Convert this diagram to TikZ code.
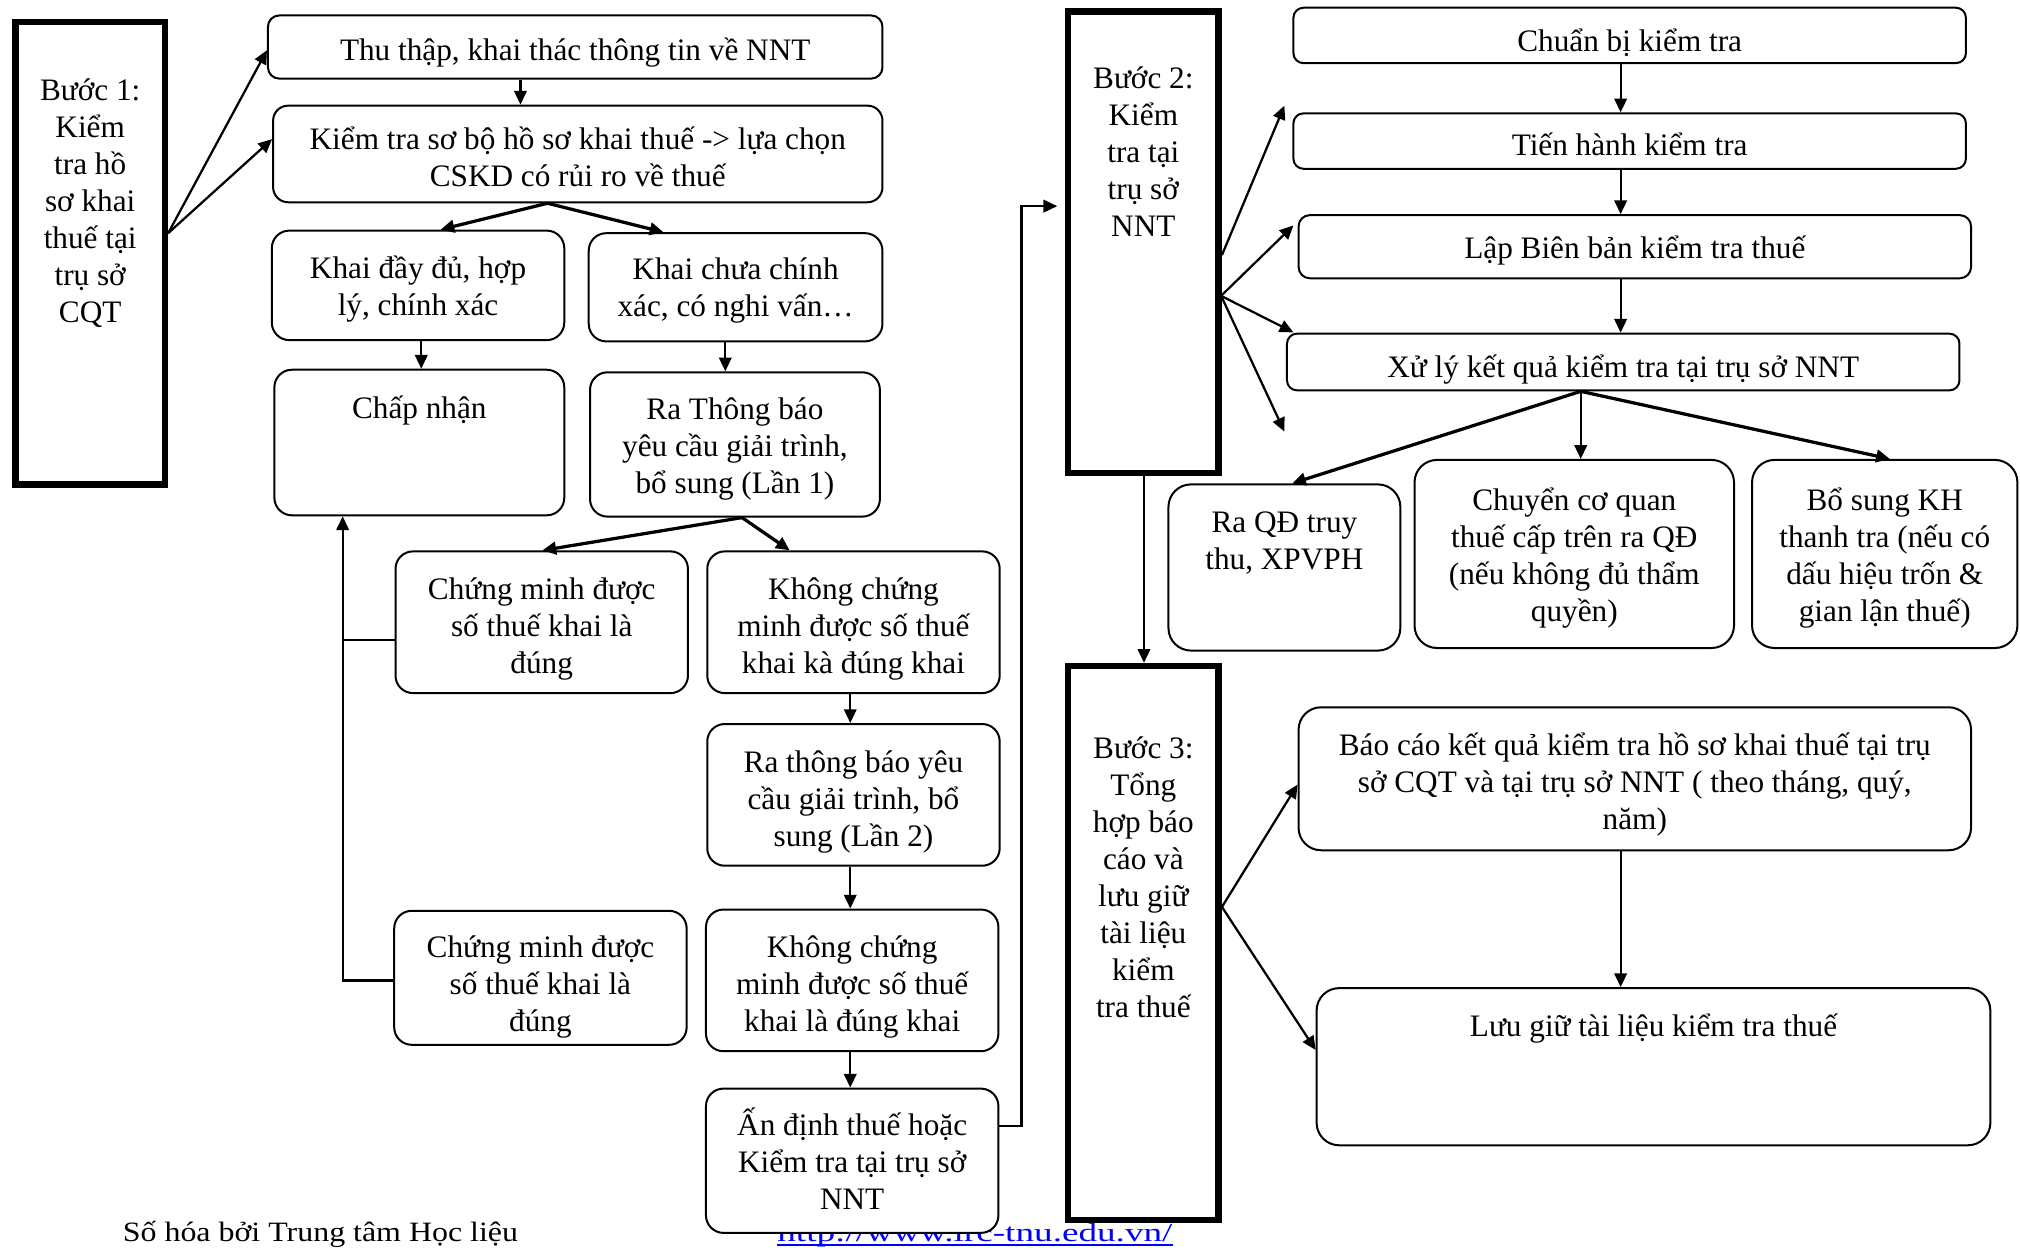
\documentclass[tikz,border=0pt]{standalone}
\usepackage{fontspec}
\setmainfont{Liberation Serif}
\usepackage{graphicx}
\usetikzlibrary{arrows.meta,fit}

\tikzset{
  hop/.style={draw, fill=white, rounded corners=#1, line width=0.8pt, inner sep=0pt},
  hop/.default=7pt,
  buoc/.style={draw, fill=white, line width=2.6pt, inner sep=0pt},
  chu/.style={anchor=base, align=center, inner sep=0pt},
  mui/.style={-{Triangle[length=5.5pt,width=5pt]}, line width=0.9pt},
  muidam/.style={mui, line width=1.3pt},
}

\begin{document}
\begin{tikzpicture}[x=0.5153pt, y=-0.5153pt, font=\fontsize{12.5pt}{14.8pt}\selectfont]
  \path[use as bounding box, fill=white] (0,0) rectangle (1568,970);

  % chan trang
  \node[chu, anchor=base west] (sohoa) at (95,964)
    {\fontsize{11.2pt}{13pt}\selectfont\scalebox{1.14}[1]{Số hóa bởi Trung tâm Học liệu}};
  \node[chu, anchor=base west, text=blue] (diachi) at (603,964)
    {\fontsize{10.4pt}{12pt}\selectfont\scalebox{1.43}[1]{http://www.lrc-tnu.edu.vn/}};
  \draw[blue, line width=0.7pt] ([yshift=-1.3pt]diachi.base west) -- ([yshift=-1.3pt]diachi.base east);

  % Buoc 1: kiem tra tai tru so CQT
  \node[buoc, fit={(12,17) (128,376)},
    label={[chu, yshift=-121.5pt]north:Bước 1:\\Kiểm\\tra hồ\\sơ khai\\thuế tại\\trụ sở\\CQT}] (buoc1) {};
  \node[hop=4.5pt, fit={(208,12) (685,61)},
    label={[chu, yshift=-18.3pt]north:Thu thập, khai thác thông tin về NNT}] (thuthap) {};
  \node[hop=6pt, fit={(212,82) (685,157)},
    label={[chu, yshift=-32.7pt]north:Kiểm tra sơ bộ hồ sơ khai thuế -> lựa chọn\\CSKD có rủi ro về thuế}] (kiemtra) {};
  \node[hop, fit={(211,179) (438,264)},
    label={[chu, yshift=-34.2pt]north:Khai đầy đủ, hợp\\lý, chính xác}] (khaidu) {};
  \node[hop, fit={(457,181) (685,265)},
    label={[chu, yshift=-33.7pt]north:Khai chưa chính\\xác, có nghi vấn…}] (khaichua) {};
  \node[hop, fit={(213,287) (438,400)},
    label={[chu, yshift=-20pt]north:Chấp nhận}] (chapnhan) {};
  \node[hop, fit={(458,289) (683,401)},
    label={[chu, yshift=-48.7pt]north:Ra Thông báo\\yêu cầu giải trình,\\bổ sung (Lần 1)}] (thongbao1) {};
  \node[hop, fit={(307,428) (534,538)},
    label={[chu, yshift=-49.2pt]north:Chứng minh được\\số thuế khai là\\đúng}] (chungminh1) {};
  \node[hop, fit={(549,428) (776,538)},
    label={[chu, yshift=-49.2pt]north:Không chứng\\minh được số thuế\\khai kà đúng khai}] (khongcm1) {};
  \node[hop, fit={(549,562) (776,672)},
    label={[chu, yshift=-49.2pt]north:Ra thông báo yêu\\cầu giải trình, bổ\\sung (Lần 2)}] (thongbao2) {};
  \node[hop, fit={(306,707) (533,811)},
    label={[chu, yshift=-48.7pt]north:Chứng minh được\\số thuế khai là\\đúng}] (chungminh2) {};
  \node[hop, fit={(548,706) (775,816)},
    label={[chu, yshift=-49.2pt]north:Không chứng\\minh được số thuế\\khai là đúng khai}] (khongcm2) {};
  \node[hop, fit={(548,845) (775,957)},
    label={[chu, yshift=-48.7pt]north:Ấn định thuế hoặc\\Kiểm tra tại trụ sở\\NNT}] (andinh) {};

  % Buoc 2: kiem tra tai tru so NNT
  \node[buoc, fit={(829,9) (946,367)},
    label={[chu, yshift=-91.4pt]north:Bước 2:\\Kiểm\\tra tại\\trụ sở\\NNT}] (buoc2) {};
  \node[hop=4pt, fit={(1004,6) (1526,49)},
    label={[chu, yshift=-17.8pt]north:Chuẩn bị kiểm tra}] (chuanbi) {};
  \node[hop=4pt, fit={(1004,88) (1526,131)},
    label={[chu, yshift=-17.2pt]north:Tiến hành kiểm tra}] (tienhanh) {};
  \node[hop=4.5pt, fit={(1008,167) (1530,216)},
    label={[chu, yshift=-17.8pt]north:Lập Biên bản kiểm tra thuế}] (bienban) {};
  \node[hop=4pt, fit={(999,259) (1521,303)},
    label={[chu, yshift=-17.8pt]north:Xử lý kết quả kiểm tra tại trụ sở NNT}] (xuly) {};
  \node[hop=9pt, fit={(907,376) (1087,505)},
    label={[chu, yshift=-34.6pt]north:Ra QĐ truy\\thu, XPVPH}] (truythu) {};
  \node[hop=9pt, fit={(1098,357) (1346,503)},
    label={[chu, yshift=-65.2pt]north:Chuyển cơ quan\\thuế cấp trên ra QĐ\\(nếu không đủ thẩm\\quyền)}] (chuyen) {};
  \node[hop=9pt, fit={(1360,357) (1566,503)},
    label={[chu, yshift=-65.2pt]north:Bổ sung KH\\thanh tra (nếu có\\dấu hiệu trốn \&\\gian lận thuế)}] (bosung) {};

  % Buoc 3: tong hop bao cao
  \node[buoc, fit={(829,517) (946,947)},
    label={[chu, yshift=-142pt]north:Bước 3:\\Tổng\\hợp báo\\cáo và\\lưu giữ\\tài liệu\\kiểm\\tra thuế}] (buoc3) {};
  \node[hop=9pt, fit={(1008,549) (1530,660)},
    label={[chu, yshift=-49.2pt]north:Báo cáo kết quả kiểm tra hồ sơ khai thuế tại trụ\\sở CQT và tại trụ sở NNT ( theo tháng, quý,\\năm)}] (baocao) {};
  \node[hop=9pt, fit={(1022,767) (1545,889)},
    label={[chu, yshift=-19.8pt]north:Lưu giữ tài liệu kiểm tra thuế}] (luugiu) {};

  % mui ten buoc 1
  \draw[mui] (buoc1.east |- 0,181) -- (thuthap.west |- 0,39);
  \draw[mui] (buoc1.east |- 0,181) -- (kiemtra.west |- 0,108);
  \draw[mui] (404,0 |- thuthap.south) -- (404,0 |- kiemtra.north);
  \draw[muidam] (425,0 |- kiemtra.south) -- (342,0 |- khaidu.north);
  \draw[muidam] (425,0 |- kiemtra.south) -- (515,0 |- khaichua.north);
  \draw[mui] (327,0 |- khaidu.south) -- (327,0 |- chapnhan.north);
  \draw[mui] (563,0 |- khaichua.south) -- (563,0 |- thongbao1.north);
  \draw[muidam] (576,0 |- thongbao1.south) -- (421,0 |- chungminh1.north);
  \draw[muidam] (576,0 |- thongbao1.south) -- (613,0 |- khongcm1.north);
  \draw[mui] (660,0 |- khongcm1.south) -- (660,0 |- thongbao2.north);
  \draw[mui] (660,0 |- thongbao2.south) -- (660,0 |- khongcm2.north);
  \draw[mui] (660,0 |- khongcm2.south) -- (660,0 |- andinh.north);

  % quay lai chap nhan
  \coordinate (noi) at (266,497);
  \draw[line width=0.9pt] (chungminh1.west |- noi) -- (noi);
  \draw[mui] (chungminh2.west |- 0,761) -| (266,0 |- chapnhan.south);

  % sang buoc 2
  \draw[mui, shorten >=3pt] (andinh.east |- 0,874) -| (793,160) -- (buoc2.west |- 0,160);

  % mui ten buoc 2
  \coordinate (d1) at (997,82);
  \coordinate (d2) at (1004,175);
  \coordinate (d3) at (1004,258);
  \coordinate (d4) at (997,335);
  \draw[mui] (buoc2.east |- 0,198) -- (d1);
  \draw[mui] (buoc2.east |- 0,229) -- (d2);
  \draw[mui] (buoc2.east |- 0,230) -- (d3);
  \draw[mui] (buoc2.east |- 0,231) -- (d4);
  \draw[mui] (1258,0 |- chuanbi.south) -- (1258,0 |- tienhanh.north);
  \draw[mui] (1258,0 |- tienhanh.south) -- (1258,0 |- bienban.north);
  \draw[mui] (1258,0 |- bienban.south) -- (1258,0 |- xuly.north);
  \draw[muidam] (1227,0 |- xuly.south) -- (1003,0 |- truythu.north);
  \draw[mui] (1227,0 |- xuly.south) -- (1227,0 |- chuyen.north);
  \draw[muidam] (1227,0 |- xuly.south) -- (1467,0 |- bosung.north);
  \draw[mui] (888,0 |- buoc2.south) -- (888,0 |- buoc3.north);

  % mui ten buoc 3
  \draw[mui] (buoc3.east |- 0,704) -- (baocao.west |- 0,609);
  \draw[mui] (buoc3.east |- 0,704) -- (luugiu.west |- 0,815);
  \draw[mui] (1258,0 |- baocao.south) -- (1258,0 |- luugiu.north);
\end{tikzpicture}
\end{document}
